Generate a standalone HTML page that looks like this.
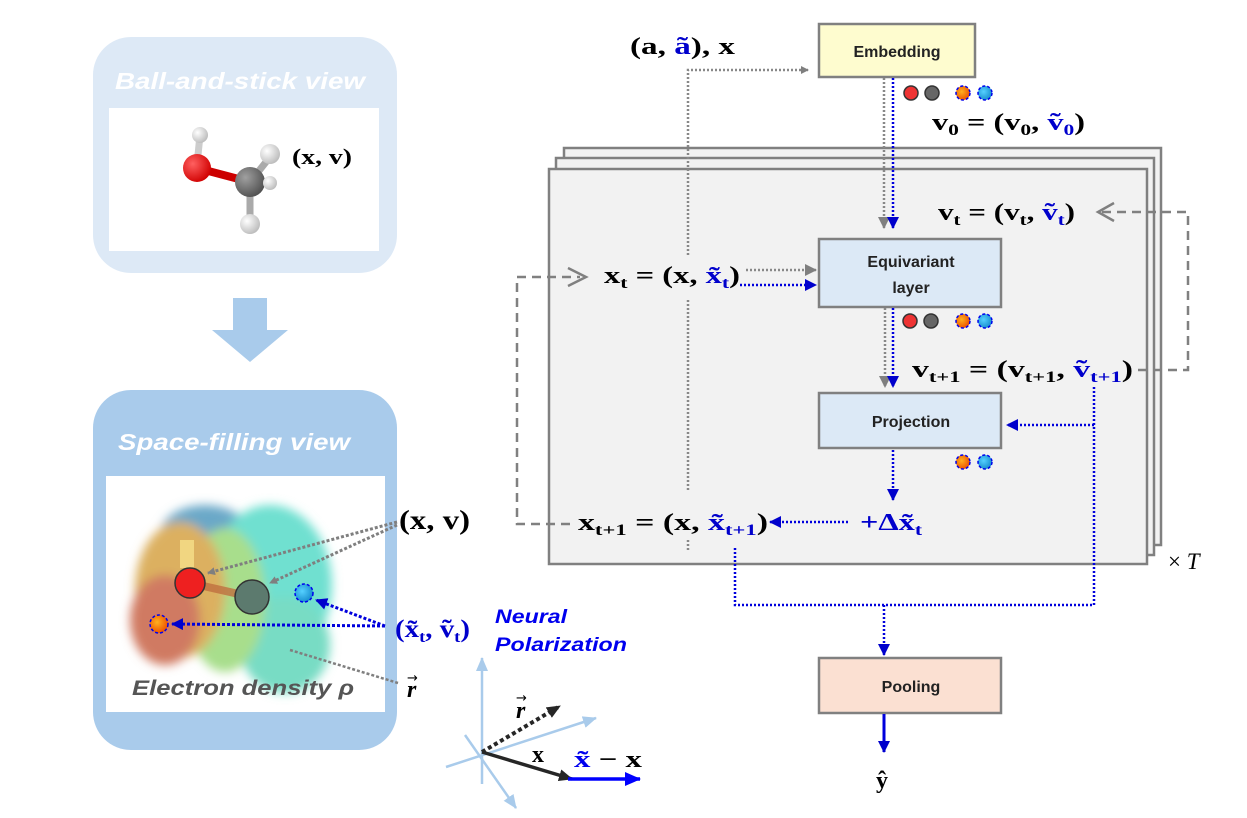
<!DOCTYPE html>
<html><head><meta charset="utf-8"><style>
body{margin:0;background:#fff;}
svg{display:block;}
.m{font-family:"Liberation Serif",serif;font-weight:bold;}
.s{font-family:"Liberation Sans","DejaVu Sans",sans-serif;font-weight:bold;}
</style></head><body>
<svg width="1247" height="818" viewBox="0 0 1247 818" xmlns="http://www.w3.org/2000/svg">
<defs>
<marker id="ag" markerWidth="8" markerHeight="8" refX="7" refY="4" orient="auto" markerUnits="userSpaceOnUse"><path d="M0,0 L8,4 L0,8z" fill="#7f7f7f"/></marker>
<marker id="ab" markerWidth="12" markerHeight="12" refX="11" refY="6" orient="auto" markerUnits="userSpaceOnUse"><path d="M0,0 L12,6 L0,12z" fill="#0000cc"/></marker>
<marker id="agb" markerWidth="12" markerHeight="12" refX="11" refY="6" orient="auto" markerUnits="userSpaceOnUse"><path d="M0,0 L12,6 L0,12z" fill="#7f7f7f"/></marker>
<marker id="ak" markerWidth="14" markerHeight="12" refX="13" refY="6" orient="auto" markerUnits="userSpaceOnUse"><path d="M0,0 L14,6 L0,12z" fill="#262626"/></marker>
<marker id="ab2" markerWidth="16" markerHeight="14" refX="15" refY="7" orient="auto" markerUnits="userSpaceOnUse"><path d="M0,0 L16,7 L0,14z" fill="#0000ff"/></marker>
<marker id="al" markerWidth="14" markerHeight="12" refX="13" refY="6" orient="auto" markerUnits="userSpaceOnUse"><path d="M0,0 L14,6 L0,12z" fill="#a9cbeb"/></marker>
<filter id="bl" x="-20%" y="-20%" width="140%" height="140%"><feGaussianBlur stdDeviation="5"/></filter>
<radialGradient id="or" cx="0.4" cy="0.4" r="0.6"><stop offset="0" stop-color="#ffb020"/><stop offset="1" stop-color="#ee5500"/></radialGradient>
<radialGradient id="cy" cx="0.4" cy="0.4" r="0.6"><stop offset="0" stop-color="#55d0ff"/><stop offset="1" stop-color="#1a90d0"/></radialGradient>
<radialGradient id="rd" cx="0.35" cy="0.35" r="0.7"><stop offset="0" stop-color="#ff6060"/><stop offset="1" stop-color="#d00000"/></radialGradient>
<radialGradient id="gy" cx="0.35" cy="0.35" r="0.7"><stop offset="0" stop-color="#a0a0a0"/><stop offset="1" stop-color="#505050"/></radialGradient>
<radialGradient id="wh" cx="0.35" cy="0.35" r="0.7"><stop offset="0" stop-color="#ffffff"/><stop offset="1" stop-color="#bbbbbb"/></radialGradient>
</defs>

<rect x="93" y="37" width="304" height="236" rx="38" fill="#dde9f6"/>
<text x="115" y="89" class="s" font-style="italic" font-size="23" fill="#ffffff" textLength="250" lengthAdjust="spacingAndGlyphs">Ball-and-stick view</text>
<rect x="109" y="108" width="270" height="143" fill="#fff"/>
<line x1="200" y1="135" x2="197" y2="165" stroke="#ccc" stroke-width="7"/>
<line x1="197" y1="168" x2="250" y2="182" stroke="#c00" stroke-width="8"/>
<line x1="250" y1="182" x2="270" y2="157" stroke="#aaa" stroke-width="7"/>
<line x1="250" y1="182" x2="250" y2="222" stroke="#aaa" stroke-width="7"/>
<circle cx="200" cy="135" r="8" fill="url(#wh)"/>
<circle cx="197" cy="168" r="14" fill="url(#rd)"/>
<circle cx="250" cy="182" r="15" fill="url(#gy)"/>
<circle cx="270" cy="154" r="10" fill="url(#wh)"/>
<circle cx="270" cy="183" r="7" fill="url(#wh)"/>
<circle cx="250" cy="224" r="10" fill="url(#wh)"/>
<text x="292" y="164" class="m" font-size="22" fill="#000" textLength="60" lengthAdjust="spacingAndGlyphs">(x, v)</text>

<path d="M233,298 H267 V330 H288 L250,362 L212,330 H233z" fill="#a9cbeb"/>

<rect x="93" y="390" width="304" height="360" rx="38" fill="#a9cbeb"/>
<text x="118" y="450" class="s" font-style="italic" font-size="23" fill="#ffffff" textLength="232" lengthAdjust="spacingAndGlyphs">Space-filling view</text>
<rect x="106" y="476" width="279" height="236" fill="#fff"/>
<g filter="url(#bl)">
<ellipse cx="205" cy="535" rx="45" ry="30" fill="#6aa8c8"/>
<ellipse cx="270" cy="585" rx="62" ry="80" fill="#6fe0d0"/>
<ellipse cx="285" cy="645" rx="45" ry="48" fill="#78dcc4"/>
<ellipse cx="225" cy="600" rx="40" ry="72" fill="#a8de8c"/>
<ellipse cx="180" cy="590" rx="45" ry="68" fill="#dcb060"/>
<ellipse cx="165" cy="620" rx="35" ry="45" fill="#d07a62"/>
</g>
<rect x="180" y="540" width="14" height="28" fill="#f6e08a" opacity="0.8"/>
<line x1="190" y1="583" x2="252" y2="597" stroke="#c07040" stroke-width="8" opacity="0.8"/>
<circle cx="190" cy="583" r="15" fill="#ee2020" stroke="#333" stroke-width="1.5"/>
<circle cx="252" cy="597" r="17" fill="#5c7a6e" stroke="#333" stroke-width="1.5"/>
<circle cx="304" cy="593" r="9" fill="url(#cy)" stroke="#0000ee" stroke-width="1.5" stroke-dasharray="3,2"/>
<circle cx="159" cy="624" r="9" fill="url(#or)" stroke="#0000ee" stroke-width="1.5" stroke-dasharray="3,2"/>
<text x="132" y="695" class="s" font-style="italic" font-size="21" fill="#555" textLength="222" lengthAdjust="spacingAndGlyphs">Electron density ρ</text>
<line x1="397" y1="522" x2="208" y2="573" stroke="#7f7f7f" stroke-width="3" stroke-dasharray="3,2" marker-end="url(#ag)"/>
<line x1="397" y1="525" x2="270" y2="583" stroke="#7f7f7f" stroke-width="3" stroke-dasharray="3,2" marker-end="url(#ag)"/>
<line x1="385" y1="626" x2="316" y2="600" stroke="#0000dd" stroke-width="3" stroke-dasharray="3,2" marker-end="url(#ab)"/>
<line x1="385" y1="626" x2="172" y2="624" stroke="#0000dd" stroke-width="3" stroke-dasharray="3,2" marker-end="url(#ab)"/>
<line x1="290" y1="650" x2="398" y2="683" stroke="#7f7f7f" stroke-width="2.5" stroke-dasharray="3,2"/>
<text x="399" y="529" class="m" font-size="27" fill="#000" textLength="71" lengthAdjust="spacingAndGlyphs">(x, v)</text>
<text x="395" y="637" class="m" font-size="25" fill="#0000cc" textLength="75" lengthAdjust="spacingAndGlyphs">(x̃<tspan font-size="16" dy="5">t</tspan><tspan dy="-5">, ṽ</tspan><tspan font-size="16" dy="5">t</tspan><tspan dy="-5">)</tspan></text>
<text x="407" y="697" class="m" font-style="italic" font-size="24" fill="#000">r</text>
<text x="407" y="682" font-family="DejaVu Sans,sans-serif" font-size="13" fill="#000">→</text>
<text x="495" y="623" class="s" font-style="italic" font-size="19" fill="#0000ee" textLength="72" lengthAdjust="spacingAndGlyphs">Neural</text>
<text x="495" y="651" class="s" font-style="italic" font-size="19" fill="#0000ee" textLength="132" lengthAdjust="spacingAndGlyphs">Polarization</text>

<line x1="482" y1="784" x2="482" y2="658" stroke="#a9cbeb" stroke-width="2.5" marker-end="url(#al)"/>
<line x1="446" y1="767" x2="596" y2="718" stroke="#a9cbeb" stroke-width="2.5" marker-end="url(#al)"/>
<line x1="465" y1="735" x2="516" y2="808" stroke="#a9cbeb" stroke-width="2.5" marker-end="url(#al)"/>
<line x1="482" y1="752" x2="560" y2="706" stroke="#262626" stroke-width="4" stroke-dasharray="4,3" marker-end="url(#ak)"/>
<line x1="482" y1="752" x2="572" y2="779" stroke="#262626" stroke-width="3.5" marker-end="url(#ak)"/>
<line x1="568" y1="779" x2="640" y2="779" stroke="#0000ff" stroke-width="3.5" marker-end="url(#ab2)"/>
<text x="516" y="718" class="m" font-style="italic" font-size="24" fill="#000">r</text>
<text x="516" y="702" font-family="DejaVu Sans,sans-serif" font-size="13" fill="#000">→</text>
<text x="532" y="762" class="m" font-size="24" fill="#000">x</text>
<text x="574" y="767" class="m" font-size="24" fill="#0000ee" textLength="68" lengthAdjust="spacingAndGlyphs">x̃ <tspan fill="#000">− x</tspan></text>

<rect x="564" y="148" width="597" height="397" fill="#f2f2f2" stroke="#808080" stroke-width="2.5"/>
<rect x="556" y="158" width="598" height="397" fill="#f2f2f2" stroke="#808080" stroke-width="2.5"/>
<rect x="549" y="169" width="598" height="395" fill="#f2f2f2" stroke="#808080" stroke-width="2.5"/>
<text x="1168" y="569" font-family="Liberation Serif,serif" font-size="23" fill="#000">× <tspan font-style="italic">T</tspan></text>

<rect x="819" y="24" width="156" height="53" fill="#fefccf" stroke="#808080" stroke-width="2.5"/>
<text x="897" y="57" text-anchor="middle" class="s" font-size="16" fill="#222">Embedding</text>
<rect x="819" y="239" width="182" height="68" fill="#dce9f6" stroke="#808080" stroke-width="2.5"/>
<text x="911" y="267" text-anchor="middle" class="s" font-size="16" fill="#222">Equivariant</text>
<text x="911" y="293" text-anchor="middle" class="s" font-size="16" fill="#222">layer</text>
<rect x="819" y="393" width="182" height="55" fill="#dce9f6" stroke="#808080" stroke-width="2.5"/>
<text x="911" y="427" text-anchor="middle" class="s" font-size="16" fill="#222">Projection</text>
<rect x="819" y="658" width="182" height="55" fill="#fbe0d2" stroke="#808080" stroke-width="2.5"/>
<text x="911" y="692" text-anchor="middle" class="s" font-size="16" fill="#222">Pooling</text>

<g stroke-width="1.5">
<circle cx="911" cy="93" r="7" fill="#ee3333" stroke="#333"/><circle cx="932" cy="93" r="7" fill="#666" stroke="#333"/>
<circle cx="963" cy="93" r="7" fill="url(#or)" stroke="#00e" stroke-dasharray="3,2"/><circle cx="985" cy="93" r="7" fill="url(#cy)" stroke="#00e" stroke-dasharray="3,2"/>
<circle cx="910" cy="321" r="7" fill="#ee3333" stroke="#333"/><circle cx="931" cy="321" r="7" fill="#666" stroke="#333"/>
<circle cx="963" cy="321" r="7" fill="url(#or)" stroke="#00e" stroke-dasharray="3,2"/><circle cx="985" cy="321" r="7" fill="url(#cy)" stroke="#00e" stroke-dasharray="3,2"/>
<circle cx="963" cy="462" r="7" fill="url(#or)" stroke="#00e" stroke-dasharray="3,2"/><circle cx="985" cy="462" r="7" fill="url(#cy)" stroke="#00e" stroke-dasharray="3,2"/>
</g>

<text x="630" y="54" class="m" font-size="24" fill="#000" textLength="105" lengthAdjust="spacingAndGlyphs">(a, <tspan fill="#0000cc">ã</tspan>), x</text>
<text x="932" y="130" class="m" font-size="24" fill="#000" textLength="153" lengthAdjust="spacingAndGlyphs">v<tspan font-size="16" dy="5">0</tspan><tspan dy="-5"> = (v</tspan><tspan font-size="16" dy="5">0</tspan><tspan dy="-5">, </tspan><tspan fill="#0000cc">ṽ</tspan><tspan font-size="16" dy="5" fill="#0000cc">0</tspan><tspan dy="-5">)</tspan></text>
<text x="938" y="220" class="m" font-size="24" fill="#000" textLength="137" lengthAdjust="spacingAndGlyphs">v<tspan font-size="16" dy="5">t</tspan><tspan dy="-5"> = (v</tspan><tspan font-size="16" dy="5">t</tspan><tspan dy="-5">, </tspan><tspan fill="#0000cc">ṽ</tspan><tspan font-size="16" dy="5" fill="#0000cc">t</tspan><tspan dy="-5">)</tspan></text>
<text x="604" y="283" class="m" font-size="24" fill="#000" textLength="136" lengthAdjust="spacingAndGlyphs">x<tspan font-size="16" dy="5">t</tspan><tspan dy="-5"> = (x, </tspan><tspan fill="#0000cc">x̃</tspan><tspan font-size="16" dy="5" fill="#0000cc">t</tspan><tspan dy="-5">)</tspan></text>
<text x="912" y="377" class="m" font-size="24" fill="#000" textLength="221" lengthAdjust="spacingAndGlyphs">v<tspan font-size="16" dy="5">t+1</tspan><tspan dy="-5"> = (v</tspan><tspan font-size="16" dy="5">t+1</tspan><tspan dy="-5">, </tspan><tspan fill="#0000cc">ṽ</tspan><tspan font-size="16" dy="5" fill="#0000cc">t+1</tspan><tspan dy="-5">)</tspan></text>
<text x="578" y="530" class="m" font-size="24" fill="#000" textLength="190" lengthAdjust="spacingAndGlyphs">x<tspan font-size="16" dy="5">t+1</tspan><tspan dy="-5"> = (x, </tspan><tspan fill="#0000cc">x̃</tspan><tspan font-size="16" dy="5" fill="#0000cc">t+1</tspan><tspan dy="-5">)</tspan></text>
<text x="860" y="530" class="m" font-size="24" fill="#0000cc" textLength="62" lengthAdjust="spacingAndGlyphs">+Δx̃<tspan font-size="16" dy="5">t</tspan></text>
<text x="876" y="788" class="m" font-size="24" fill="#000">ŷ</text>

<g fill="none" stroke-width="2.5">
<path d="M688,490 V300 M688,255 V70 H808" stroke="#888" stroke-dasharray="2,2" marker-end="url(#ag)"/>
<path d="M688,540 V552" stroke="#888" stroke-dasharray="2,2"/>
<path d="M884,78 V228" stroke="#888" stroke-dasharray="2,2" marker-end="url(#agb)"/>
<path d="M893,78 V228" stroke="#0000dd" stroke-dasharray="2,2" marker-end="url(#ab)"/>
<path d="M746,270 H816" stroke="#888" stroke-dasharray="2,2" marker-end="url(#agb)"/>
<path d="M740,285 H816" stroke="#0000dd" stroke-dasharray="2,2" marker-end="url(#ab)"/>
<path d="M885,308 V387" stroke="#888" stroke-dasharray="2,2" marker-end="url(#agb)"/>
<path d="M893,308 V387" stroke="#0000dd" stroke-dasharray="2,2" marker-end="url(#ab)"/>
<path d="M893,450 V500" stroke="#0000dd" stroke-dasharray="2,2" marker-end="url(#ab)"/>
<path d="M848,522 H770" stroke="#0000dd" stroke-dasharray="2,2" marker-end="url(#ab)"/>
<path d="M1094,387 V605 H735 V548" stroke="#0000dd" stroke-dasharray="2,2"/>
<path d="M1094,425 H1007" stroke="#0000dd" stroke-dasharray="2,2" marker-end="url(#ab)"/>
<path d="M884,605 V655" stroke="#0000dd" stroke-dasharray="2,2" marker-end="url(#ab)"/>
<path d="M884,714 V752" stroke="#0000dd" stroke-width="3" marker-end="url(#ab)"/>
<path d="M570,524 H517 V277 H580" stroke="#808080" stroke-dasharray="9,6"/>
<path d="M568,268 L586,277 L568,286" stroke="#808080"/>
<path d="M1138,370 H1188 V212 H1102" stroke="#808080" stroke-dasharray="9,6"/>
<path d="M1114,203 L1098,212 L1114,221" stroke="#808080"/>
</g>
</svg>
</body></html>
